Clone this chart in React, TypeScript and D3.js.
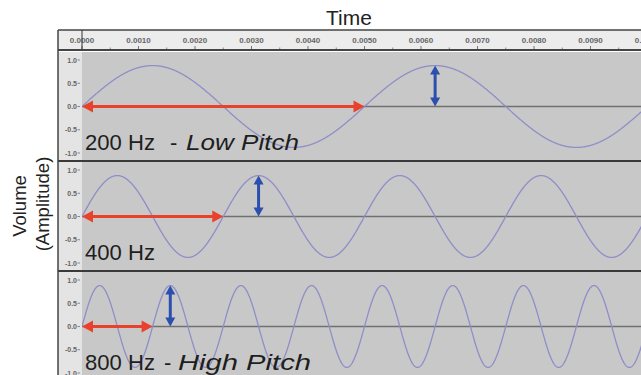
import React from "react";
import * as d3 from "d3";

const frequencies = [200, 400, 800];
const panelLabels = ["200 Hz", "400 Hz", "800 Hz"];
const panelSuffix = ["Low Pitch", "", "High Pitch"];
const amplitude = 0.88;
const timeTicks = [0, 0.001, 0.002, 0.003, 0.004, 0.005, 0.006, 0.007, 0.008, 0.009, 0.01];
const yTicks = [1.0, 0.5, 0.0, -0.5, -1.0];

const W = 641;
const H = 375;
const frameLeft = 58;
const plotLeft = 82;
const rulerTop = 30;
const rulerBottom = 51;
const panelTops = [52, 162, 272];
const panelH = 108;
const dashX = [170, 0, 164];
const suffixX = [186, 0, 178];
const suffixLen = [113, 0, 133];

export default function App() {
  const x = d3.scaleLinear().domain([0, 0.001]).range([plotLeft, plotLeft + 56.5]);
  const tMax = x.invert(W + 5);
  const samples = d3.range(0, tMax, 0.000005);

  return (
    <svg width={W} height={H} style={{ position: "absolute", left: 0, top: 0, background: "#fff" }}
      fontFamily="Liberation Sans, Arial, sans-serif">
      <defs>
        <clipPath id="plotclip">
          <rect x={plotLeft} y={0} width={W - plotLeft} height={H} />
        </clipPath>
      </defs>
      {/* Time title */}
      <text x={349} y={25} fontSize={21} textAnchor="middle" fill="#222">Time</text>
      {/* Volume label */}
      <text transform={`translate(19,206) rotate(-90)`} fontSize={18.5} textAnchor="middle" dominantBaseline="central" fill="#222">Volume</text>
      <text transform={`translate(42,204) rotate(-90)`} fontSize={18.5} textAnchor="middle" dominantBaseline="central" fill="#222">(Amplitude)</text>

      {/* Ruler */}
      <rect x={frameLeft} y={rulerTop} width={W - frameLeft} height={rulerBottom - rulerTop} fill="#ececec" />
      <line x1={frameLeft} x2={W} y1={rulerTop} y2={rulerTop} stroke="#444" strokeWidth={1.5} />
      {timeTicks.map((t, i) => (
        <g key={"tt" + i}>
          <text x={x(t)} y={43} fontSize={8} fontWeight="bold" textAnchor="middle" fill="#666">{t.toFixed(4)}</text>
          <line x1={x(t)} x2={x(t)} y1={46} y2={49} stroke="#777" strokeWidth={1} />
          <line x1={x(t + 0.0005)} x2={x(t + 0.0005)} y1={47.5} y2={49} stroke="#888" strokeWidth={1} />
        </g>
      ))}
      <line x1={plotLeft} x2={plotLeft} y1={rulerTop} y2={rulerBottom - 2} stroke="#333" strokeWidth={1} />
      <line x1={frameLeft} x2={W} y1={rulerBottom - 1} y2={rulerBottom - 1} stroke="#444" strokeWidth={2} />

      {frequencies.map((f, i) => {
        const top = panelTops[i];
        const y = d3.scaleLinear().domain([1, -1]).range([top + 8, top + 101]);
        const line = d3.line<number>().x((t) => x(t)).y((t) => y(amplitude * Math.sin(2 * Math.PI * f * t)));
        const period = 1 / f;
        const arrowEnd = x(period);
        const y0 = y(0);
        const ax = x(period * 1.25);
        const yPeak = y(amplitude);
        return (
          <g key={"p" + i}>
            <rect x={frameLeft} y={top} width={plotLeft - frameLeft} height={panelH} fill="#e4e4e4" />
            <rect x={plotLeft} y={top} width={W - plotLeft} height={panelH} fill="#c8c8c8" />
            {yTicks.map((v, j) => (
              <g key={"yt" + j}>
                <text x={77} y={y(v) + 2.5} fontSize={7} fontWeight="bold" textAnchor="end" fill="#666">{v.toFixed(1)}</text>
                <line x1={77.5} x2={80} y1={y(v)} y2={y(v)} stroke="#888" strokeWidth={1} />
              </g>
            ))}
            <line x1={plotLeft} x2={W} y1={y0} y2={y0} stroke="#707070" strokeWidth={1.5} />
            <path d={line(samples) || ""} fill="none" stroke="#8e8ec8" strokeWidth={1.3} clipPath="url(#plotclip)" />
            {/* red period arrow */}
            <line x1={plotLeft + 8} x2={arrowEnd - 8} y1={y0} y2={y0} stroke="#e8412c" strokeWidth={3.2} />
            <path d={`M${plotLeft},${y0} L${plotLeft + 11},${y0 - 6} L${plotLeft + 11},${y0 + 6} Z`} fill="#e8412c" />
            <path d={`M${arrowEnd},${y0} L${arrowEnd - 11},${y0 - 6} L${arrowEnd - 11},${y0 + 6} Z`} fill="#e8412c" />
            {/* blue amplitude arrow */}
            <line x1={ax} x2={ax} y1={yPeak + 7} y2={y0 - 7} stroke="#2c4fae" strokeWidth={3} />
            <path d={`M${ax},${yPeak} L${ax - 5},${yPeak + 9} L${ax + 5},${yPeak + 9} Z`} fill="#2c4fae" />
            <path d={`M${ax},${y0} L${ax - 5},${y0 - 9} L${ax + 5},${y0 - 9} Z`} fill="#2c4fae" />
            {/* label */}
            <text x={85} y={top + 98} fontSize={22} fill="#1e1e1e" textLength={70} lengthAdjust="spacingAndGlyphs">{panelLabels[i]}</text>
            {panelSuffix[i] ? (
              <>
                <text x={dashX[i]} y={top + 98} fontSize={22} fill="#1e1e1e">-</text>
                <text x={suffixX[i]} y={top + 98} fontSize={22} fontStyle="italic" fill="#1e1e1e"
                  textLength={suffixLen[i]} lengthAdjust="spacingAndGlyphs">{panelSuffix[i]}</text>
              </>
            ) : null}
            {/* bottom border */}
            <line x1={frameLeft} x2={W} y1={top + panelH + 1} y2={top + panelH + 1} stroke="#3a3a3a" strokeWidth={2} />
          </g>
        );
      })}
      <line x1={frameLeft} x2={frameLeft} y1={rulerTop} y2={H} stroke="#444" strokeWidth={1.5} />
    </svg>
  );
}
